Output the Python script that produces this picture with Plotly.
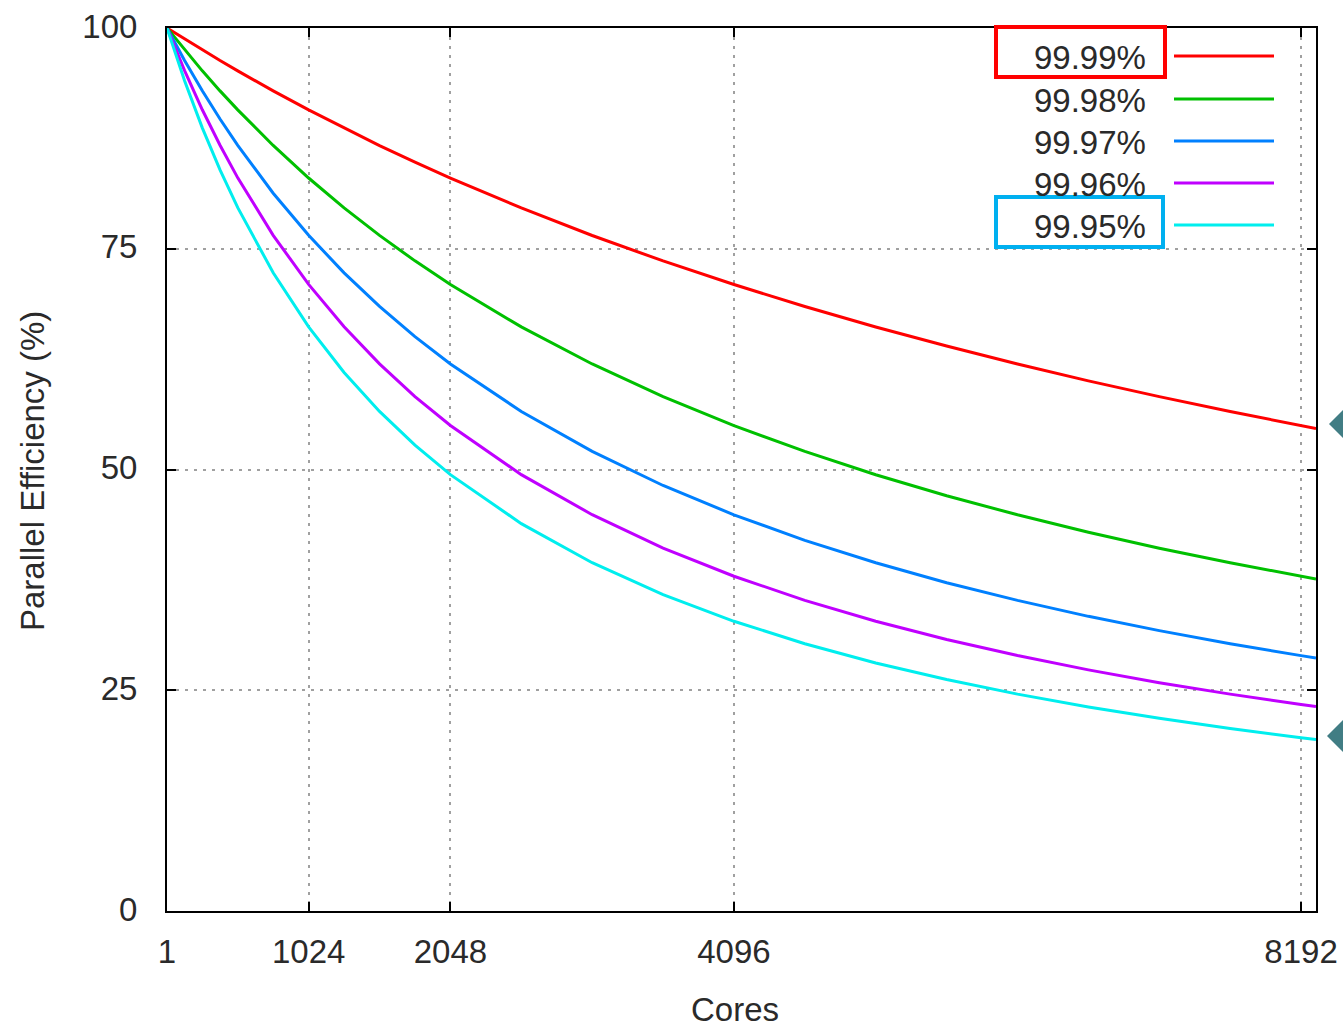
import plotly.graph_objects as go

# ---- data ----
cores = [1, 128, 256, 384, 512, 768, 1024, 1280, 1536, 1792, 2048, 2560, 3072,
         3584, 4096, 4608, 5120, 5632, 6144, 6656, 7168, 7680, 8192, 8300]

eff_9999 = [100, 98.75, 97.51, 96.31, 95.14, 92.88, 90.72, 88.66, 86.69, 84.81, 83.01,
            79.62, 76.50, 73.62, 70.95, 68.46, 66.14, 63.98, 61.95, 60.04, 58.25,
            56.56, 54.97, 54.65]
eff_9998 = [100, 97.52, 95.15, 92.88, 90.73, 86.70, 83.01, 79.63, 76.51, 73.63, 70.95,
            66.15, 61.95, 58.25, 54.97, 52.05, 49.41, 47.03, 44.87, 42.90, 41.09,
            39.44, 37.90, 37.60]
eff_9997 = [100, 96.33, 92.89, 89.69, 86.71, 81.29, 76.52, 72.27, 68.47, 65.05, 61.95,
            56.57, 52.05, 48.19, 44.87, 41.98, 39.44, 37.18, 35.18, 33.37, 31.75,
            30.27, 28.92, 28.66]
eff_9996 = [100, 95.17, 90.74, 86.72, 83.03, 76.52, 70.96, 66.16, 61.96, 58.26, 54.98,
            49.42, 44.88, 41.10, 37.91, 35.18, 32.81, 30.75, 28.93, 27.31, 25.86,
            24.56, 23.38, 23.15]
eff_9995 = [100, 94.03, 88.69, 83.93, 79.65, 72.28, 66.16, 60.99, 56.58, 52.76, 49.42,
            43.87, 39.44, 35.82, 32.81, 30.27, 28.09, 26.21, 24.56, 23.11, 21.82,
            20.66, 19.63, 19.42]

series_names = ["99.99%", "99.98%", "99.97%", "99.96%", "99.95%"]
series_values = [eff_9999, eff_9998, eff_9997, eff_9996, eff_9995]
series_colors = ["#ff0000", "#00c000", "#0080ff", "#c000ff", "#00eeee"]

x_ticks = [1, 1024, 2048, 4096, 8192]
y_ticks = [0, 25, 50, 75, 100]

FONT = "Liberation Sans"
FS = 33
TXT = "#2a2a2a"

fig = go.Figure()
for name, vals, col in zip(series_names, series_values, series_colors):
    fig.add_trace(go.Scatter(x=cores, y=vals, mode="lines", name=name,
                             line=dict(color=col, width=3), showlegend=False))

L, R, T, B = 167, 27, 28, 116
W, H = 1343, 1027
pw, ph = W - L - R, H - T - B

def px(xp):
    return (xp - L) / pw

def py(yp):
    return (H - B - yp) / ph

shapes = []
annotations = []
row_y = [56, 99, 141, 183, 225]
for name, col, yy in zip(series_names, series_colors, row_y):
    shapes.append(dict(type="line", xref="paper", yref="paper",
                       x0=px(1174), x1=px(1274), y0=py(yy), y1=py(yy),
                       line=dict(color=col, width=3)))
    annotations.append(dict(text=name, xref="paper", yref="paper",
                            x=px(1148), y=py(yy + 1), xanchor="right", yanchor="middle",
                            showarrow=False, font=dict(family=FONT, size=FS, color=TXT)))

# highlight boxes
shapes.append(dict(type="rect", xref="paper", yref="paper",
                   x0=px(996), x1=px(1165), y0=py(77), y1=py(27),
                   line=dict(color="#ff0000", width=4)))
shapes.append(dict(type="rect", xref="paper", yref="paper",
                   x0=px(996), x1=px(1163), y0=py(247), y1=py(197),
                   line=dict(color="#00b0f0", width=4)))

# pointer diamonds at the right edge
def diamond(cx, cy, r):
    return ("M {:.5f},{:.5f} L {:.5f},{:.5f} L {:.5f},{:.5f} L {:.5f},{:.5f} Z"
            .format(px(cx - r), py(cy), px(cx), py(cy - r), px(cx + r), py(cy), px(cx), py(cy + r)))

for cx, cy, r in [(1343, 424, 14), (1344, 736, 17)]:
    shapes.append(dict(type="path", xref="paper", yref="paper", path=diamond(cx, cy, r),
                       fillcolor="#417d84", line=dict(width=0)))

annotations.append(dict(text="Cores", xref="paper", yref="paper",
                        x=px(735), y=py(1009), xanchor="center", yanchor="middle",
                        showarrow=False, font=dict(family=FONT, size=FS, color=TXT)))
annotations.append(dict(text="Parallel Efficiency (%)", xref="paper", yref="paper",
                        x=px(32), y=py(471), xanchor="center", yanchor="middle",
                        textangle=-90, showarrow=False,
                        font=dict(family=FONT, size=FS, color=TXT)))

fig.update_layout(
    width=W, height=H,
    margin=dict(l=L, r=R, t=T, b=B, autoexpand=False),
    paper_bgcolor="white", plot_bgcolor="white",
    font=dict(family=FONT, size=FS, color=TXT),
    shapes=shapes, annotations=annotations,
    showlegend=False,
)
fig.update_xaxes(range=[1, 8300], tickvals=x_ticks, ticktext=[str(v) for v in x_ticks],
                 automargin=False,
                 showline=True, linecolor="black", linewidth=2, mirror="ticks",
                 ticks="inside", ticklen=9, tickwidth=2, tickcolor="black",
                 showgrid=True, gridcolor="#a0a0a0", gridwidth=1.5, griddash="3px,6px",
                 zeroline=False, ticklabelstandoff=10)
fig.update_yaxes(range=[0, 100], tickvals=y_ticks, automargin=False,
                 showline=True, linecolor="black", linewidth=2, mirror="ticks",
                 ticks="inside", ticklen=9, tickwidth=2, tickcolor="black",
                 showgrid=True, gridcolor="#a0a0a0", gridwidth=1.5, griddash="3px,6px",
                 zeroline=False, ticklabelstandoff=21, ticklabelshift=-2)

fig.write_html("out.html")
